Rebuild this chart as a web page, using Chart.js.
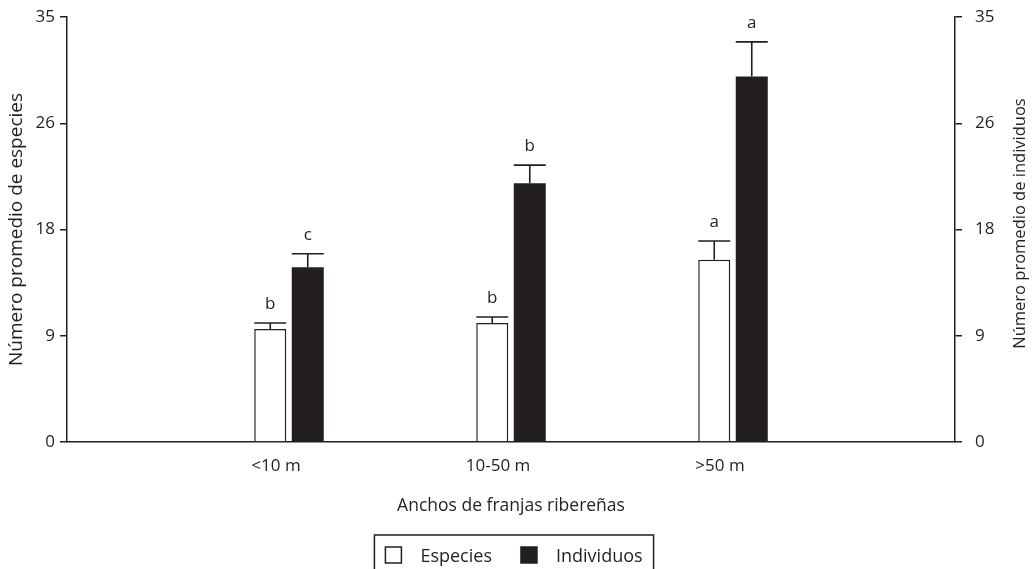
<!DOCTYPE html>
<html>
<head>
<meta charset="utf-8">
<script src="https://cdn.jsdelivr.net/npm/chart.js@4.4.1/dist/chart.umd.min.js"></script>
<style>
  html, body { margin: 0; padding: 0; background: #fff; }
  #wrap { width: 1034px; height: 569px; }
</style>
</head>
<body>
<div id="wrap"><canvas id="franjasChart"></canvas></div>
<script>
// --- data ---
const categories = ['<10 m', '10-50 m', '>50 m'];
const especies = [9.3, 9.8, 15.0];
const especiesErr = [0.5, 0.5, 1.55];
const especiesLetters = ['b', 'b', 'a'];
const individuos = [14.4, 21.3, 30.1];
const individuosErr = [1.1, 1.5, 2.85];
const individuosLetters = ['c', 'b', 'a'];
const yTicks = [0, 9, 18, 26, 35];

const INK = '#231f20';
const FONT = '"Open Sans", sans-serif';
const RIGHT_TITLE = 'Número promedio de individuos';

// empty slots at both ends so the groups sit where they do in the original
const labels = [''].concat(categories, ['']);
const pad = arr => [null].concat(arr, [null]);

// error bars + significance letters
const errorBarPlugin = {
    id: 'errorBars',
    afterDatasetsDraw(chart) {
        const ctx = chart.ctx;
        const sets = [
            { errs: especiesErr, letters: especiesLetters, vals: especies },
            { errs: individuosErr, letters: individuosLetters, vals: individuos }
        ];
        ctx.save();
        ctx.strokeStyle = INK;
        ctx.fillStyle = INK;
        ctx.lineWidth = 1.6;
        ctx.font = '17px ' + FONT;
        ctx.textAlign = 'center';
        ctx.textBaseline = 'alphabetic';
        sets.forEach((s, di) => {
            const meta = chart.getDatasetMeta(di);
            const yScale = chart.scales[meta.yAxisID];
            s.vals.forEach((v, i) => {
                const bar = meta.data[i + 1];
                if (!bar) return;
                const yTop = yScale.getPixelForValue(v + s.errs[i]);
                const half = bar.width / 2;
                ctx.beginPath();
                ctx.moveTo(bar.x, bar.y);
                ctx.lineTo(bar.x, yTop);
                ctx.moveTo(bar.x - half, yTop);
                ctx.lineTo(bar.x + half, yTop);
                ctx.stroke();
                ctx.fillText(s.letters[i], bar.x, yTop - 14);
            });
        });
        ctx.restore();
    }
};

// right axis title reads bottom-to-top like the left one,
// and the framed legend at the bottom
const extrasPlugin = {
    id: 'extras',
    afterDraw(chart) {
        const ctx = chart.ctx;
        const area = chart.chartArea;
        ctx.save();
        ctx.fillStyle = INK;

        // right title
        ctx.save();
        ctx.font = '16.5px ' + FONT;
        ctx.textAlign = 'center';
        ctx.textBaseline = 'middle';
        ctx.translate(chart.width - 14, (area.top + area.bottom) / 2 - 6);
        ctx.rotate(-Math.PI / 2);
        ctx.fillText(RIGHT_TITLE, 0, 0);
        ctx.restore();

        // legend
        ctx.font = '18px ' + FONT;
        ctx.textAlign = 'left';
        ctx.textBaseline = 'alphabetic';
        const box = 16, gapText = 19, gapItem = 29, inner = 11;
        const items = chart.data.datasets.map(ds => ({
            text: ds.label,
            fill: ds.backgroundColor,
            w: box + gapText + ctx.measureText(ds.label).width
        }));
        const total = items.reduce((a, it) => a + it.w, 0) + gapItem * (items.length - 1);
        const frameLeft = chart.width / 2 - 3 - total / 2 - inner;
        const frameTop = 535;
        ctx.strokeStyle = INK;
        ctx.lineWidth = 1.5;
        ctx.strokeRect(frameLeft, frameTop, total + inner * 2, 60);
        let x = frameLeft + inner;
        items.forEach(it => {
            ctx.fillStyle = it.fill;
            ctx.fillRect(x, 547, box, box);
            ctx.strokeRect(x, 547, box, box);
            ctx.fillStyle = INK;
            ctx.fillText(it.text, x + box + gapText, 562);
            x += it.w + gapItem;
        });
        ctx.restore();
    }
};

// fixed axis sizes so the plot area lands where the original's does
const fitY = width => s => {
    s.width = width;
    s.paddingTop = 0;
    s.paddingBottom = 0;
};

document.addEventListener('DOMContentLoaded', function() {
    const canvas = document.getElementById('franjasChart');

    new Chart(canvas, {
        type: 'bar',
        data: {
            labels: labels,
            datasets: [{
                label: 'Especies',
                data: pad(especies),
                backgroundColor: '#ffffff',
                borderColor: INK,
                borderWidth: 1.5,
                yAxisID: 'y'
            }, {
                label: 'Individuos',
                data: pad(individuos),
                backgroundColor: INK,
                borderColor: INK,
                borderWidth: 0,
                yAxisID: 'y2'
            }]
        },
        options: {
            responsive: true,
            maintainAspectRatio: false,
            animation: false,
            categoryPercentage: 0.338,
            barPercentage: 0.853,
            layout: { padding: { top: 17, bottom: 36 } },
            plugins: {
                tooltip: { enabled: false },
                legend: { display: false }
            },
            scales: {
                x: {
                    offset: false,
                    afterFit: s => { s.height = 91; },
                    grid: { drawOnChartArea: false, drawTicks: false },
                    border: { color: INK, width: 1.5 },
                    ticks: {
                        color: INK,
                        padding: 14,
                        autoSkip: false,
                        maxRotation: 0,
                        labelOffset: -13,
                        font: { family: FONT, size: 17 }
                    },
                    title: {
                        display: true,
                        text: 'Anchos de franjas ribereñas',
                        color: INK,
                        font: { family: FONT, size: 17.5 },
                        padding: { top: 16, bottom: 16 }
                    }
                },
                y: {
                    position: 'left',
                    min: 0,
                    max: 35,
                    afterFit: fitY(67),
                    afterBuildTicks: s => { s.ticks = [0, 8.75, 17.5, 26.25, 35].map(v => ({ value: v })); },
                    grid: { drawOnChartArea: false, tickLength: 7, color: INK, lineWidth: 1.5 },
                    border: { color: INK, width: 1.5 },
                    ticks: {
                        color: INK,
                        padding: 5,
                        font: { family: FONT, size: 17 },
                        callback: (v, i) => yTicks[i]
                    },
                    title: {
                        display: true,
                        text: 'Número promedio de especies',
                        color: INK,
                        font: { family: FONT, size: 19 },
                        padding: { top: 5, bottom: 5 }
                    }
                },
                y2: {
                    position: 'right',
                    min: 0,
                    max: 35,
                    afterFit: fitY(79),
                    afterBuildTicks: s => { s.ticks = [0, 8.75, 17.5, 26.25, 35].map(v => ({ value: v })); },
                    grid: { drawOnChartArea: false, tickLength: 7, color: INK, lineWidth: 1.5 },
                    border: { color: INK, width: 1.5 },
                    ticks: {
                        color: INK,
                        padding: 13,
                        font: { family: FONT, size: 17 },
                        callback: (v, i) => yTicks[i]
                    }
                }
            }
        },
        plugins: [errorBarPlugin, extrasPlugin]
    });
});
</script>
</body>
</html>
